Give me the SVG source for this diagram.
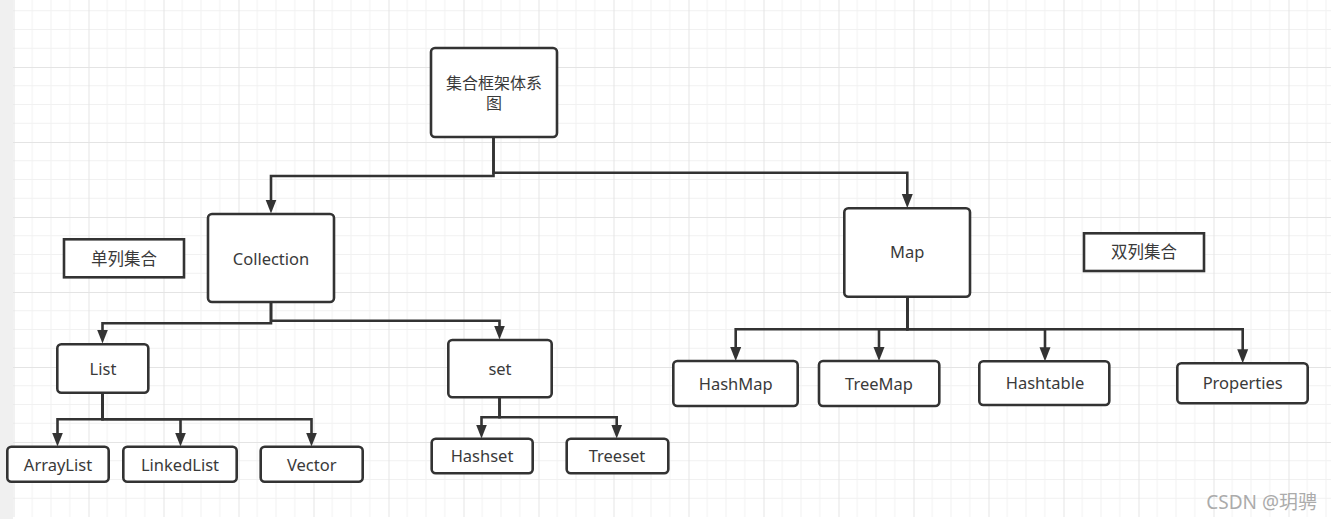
<svg xmlns="http://www.w3.org/2000/svg" width="1331" height="519" viewBox="0 0 1331 519">
  <defs>
    <pattern id="grid" patternUnits="userSpaceOnUse" x="13.5" y="-8" width="75" height="75">
      <g stroke="#f1f1f1" stroke-width="1" fill="none">
        <path d="M18.75,0 V75 M37.5,0 V75 M56.25,0 V75 M0,18.75 H75 M0,37.5 H75 M0,56.25 H75"/>
      </g>
      <path d="M0.5,0 V75 M0,0.5 H75" stroke="#e4e4e4" stroke-width="1" fill="none"/>
    </pattern>
    <marker id="arrow" markerUnits="userSpaceOnUse" markerWidth="14" markerHeight="12" viewBox="0 0 14 12" refX="5" refY="6" orient="auto">
      <path d="M0,0.5 L14,6 L0,11.5 Z" fill="#333333"/>
    </marker>
  </defs>
  <style>
    .box { fill: #ffffff; stroke: #333333; stroke-width: 2.6; }
    .label { font-family: "Noto Sans", "Noto Sans CJK SC", sans-serif; font-size: 16.5px; fill: #3a3a3a; text-anchor: middle; }
    .conn { fill: none; stroke: #333333; stroke-width: 2.6; marker-end: url(#arrow); }
    .wm { font-family: "Noto Sans", "Noto Sans CJK SC", sans-serif; font-size: 19px; fill: #ababab; text-anchor: end; }
  </style>

  <rect x="0" y="0" width="1331" height="519" fill="#ffffff"/>
  <rect x="13" y="0" width="1318" height="517" fill="url(#grid)"/>
  <rect x="0" y="0" width="13" height="519" fill="#f0f0f0"/>

  <g id="connectors">
    <path class="conn" d="M493.5,137 V176 H271 V204.5"/>
    <path class="conn" d="M493.5,137 V172.7 H907.3 V199"/>
    <path class="conn" d="M271,302 V323.3 H102.5 V334.5"/>
    <path class="conn" d="M271,302 V320.7 H499.5 V330.5"/>
    <path class="conn" d="M102.5,393 V419.3 H57.5 V437.5"/>
    <path class="conn" d="M102.5,393 V419.3 H180.5 V437.5"/>
    <path class="conn" d="M102.5,393 V419.3 H311.5 V437.5"/>
    <path class="conn" d="M499.5,397.3 V417.3 H481.5 V429.5"/>
    <path class="conn" d="M499.5,397.3 V417.3 H616.7 V429.5"/>
    <path class="conn" d="M907.3,296.7 V329.3 H735.7 V352"/>
    <path class="conn" d="M907.3,296.7 V329.3 H879 V352"/>
    <path class="conn" d="M907.3,296.7 V329.3 H1045 V352.3"/>
    <path class="conn" d="M907.3,296.7 V329.3 H1242.7 V354.3"/>
  </g>

  <g id="root">
    <rect class="box" x="431" y="48" width="126" height="89" rx="4"/>
    <text class="label" x="494" y="89.3" style="font-size:16px"><tspan x="494" y="89.3">集合框架体系</tspan><tspan x="494" y="108.9">图</tspan></text>
  </g>
  <g id="collection">
    <rect class="box" x="208" y="214" width="126" height="88" rx="4"/>
    <text class="label" x="271" y="265">Collection</text>
  </g>
  <g id="single-note">
    <rect class="box" x="64" y="239.3" width="120" height="38"/>
    <text class="label" x="124" y="265">单列集合</text>
  </g>
  <g id="list">
    <rect class="box" x="57.3" y="344.3" width="91" height="48.4" rx="4"/>
    <text class="label" x="103" y="375">List</text>
  </g>
  <g id="set">
    <rect class="box" x="448.3" y="340" width="103.4" height="57.3" rx="4"/>
    <text class="label" x="500" y="374.5">set</text>
  </g>
  <g id="arraylist">
    <rect class="box" x="7.3" y="446.7" width="101.4" height="35" rx="4"/>
    <text class="label" x="58" y="471">ArrayList</text>
  </g>
  <g id="linkedlist">
    <rect class="box" x="123.3" y="446.7" width="113.4" height="35" rx="4"/>
    <text class="label" x="180" y="471">LinkedList</text>
  </g>
  <g id="vector">
    <rect class="box" x="260.7" y="446.7" width="102" height="35" rx="4"/>
    <text class="label" x="311.7" y="471">Vector</text>
  </g>
  <g id="hashset">
    <rect class="box" x="431.7" y="438.7" width="101" height="34.6" rx="4"/>
    <text class="label" x="482" y="461.7">Hashset</text>
  </g>
  <g id="treeset">
    <rect class="box" x="566.7" y="438.7" width="101.6" height="34.6" rx="4"/>
    <text class="label" x="617" y="461.7">Treeset</text>
  </g>
  <g id="map">
    <rect class="box" x="844.3" y="208.3" width="125.7" height="88.4" rx="4"/>
    <text class="label" x="907.3" y="258.3">Map</text>
  </g>
  <g id="double-note">
    <rect class="box" x="1084" y="233.3" width="120" height="37.7"/>
    <text class="label" x="1144" y="258.3">双列集合</text>
  </g>
  <g id="hashmap">
    <rect class="box" x="673.3" y="361" width="124.4" height="45" rx="4"/>
    <text class="label" x="735.7" y="390">HashMap</text>
  </g>
  <g id="treemap">
    <rect class="box" x="819" y="361" width="120.3" height="45" rx="4"/>
    <text class="label" x="879" y="390">TreeMap</text>
  </g>
  <g id="hashtable">
    <rect class="box" x="979.3" y="361.3" width="130" height="43.7" rx="4"/>
    <text class="label" x="1045" y="389.3">Hashtable</text>
  </g>
  <g id="properties">
    <rect class="box" x="1177.3" y="363.3" width="130.4" height="40" rx="4"/>
    <text class="label" x="1242.7" y="389.3">Properties</text>
  </g>

  <text class="wm" x="1317" y="508.5">CSDN @玥骋</text>
</svg>
